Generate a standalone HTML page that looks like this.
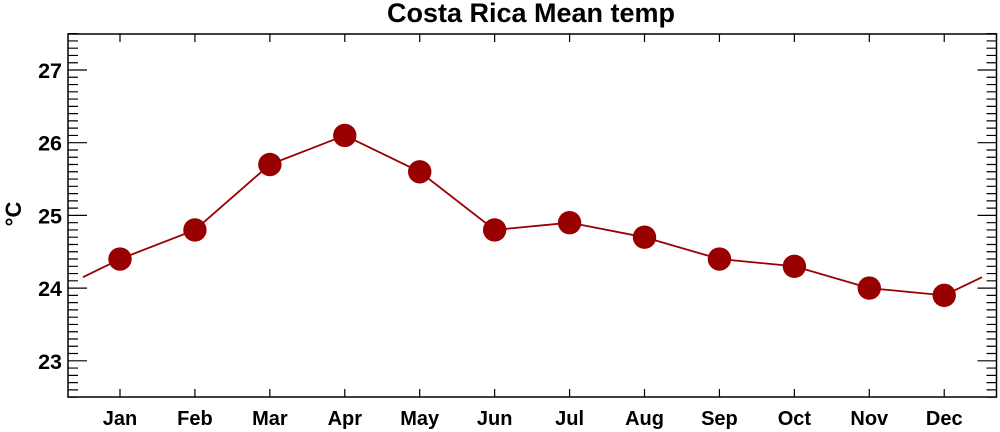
<!DOCTYPE html>
<html><head><meta charset="utf-8"><style>body{margin:0;background:#fff}svg{display:block}</style></head>
<body>
<svg id="s" width="1000" height="432" xmlns="http://www.w3.org/2000/svg" font-family="Liberation Sans, Arial, sans-serif" font-weight="bold">
<text x="531" y="22" font-size="27" text-anchor="middle">Costa Rica Mean temp</text>
<text transform="translate(21,214) rotate(-90)" font-size="22" text-anchor="middle">°C</text>
</svg>
<script>
const s=document.getElementById('s'),NS='http://www.w3.org/2000/svg';
function el(t,a,txt){const e=document.createElementNS(NS,t);for(const k in a)e.setAttribute(k,a[k]);if(txt)e.textContent=txt;s.appendChild(e);return e;}
const L=68,R=996.5,T=34,B=397;
const X=i=>120+i*74.93, Y=v=>70+(27-v)*72.7;
let d='';
for(let k=0;k<=50;k++){const v=22.5+k*0.1;const y=Y(v);const maj=Math.abs(v-Math.round(v))<0.01;const len=maj?19:10;
 d+=`M${L},${y}h${len}M${R},${y}h${-len}`;}
const m=['Jan','Feb','Mar','Apr','May','Jun','Jul','Aug','Sep','Oct','Nov','Dec'];
for(let i=0;i<12;i++){const x=X(i);d+=`M${x},${B}v-8M${x},${T}v8`;el('text',{x:x,y:425,'font-size':20,'text-anchor':'middle'},m[i]);}
el('path',{d:d,stroke:'#000','stroke-width':1.2,fill:'none'});
el('rect',{x:L,y:T,width:R-L,height:B-T,fill:'none',stroke:'#000','stroke-width':1.5});
for(let v=23;v<=27;v++)el('text',{x:62,y:Y(v)+8,'font-size':21.5,'text-anchor':'end'},String(v));
const vals=[24.4,24.8,25.7,26.1,25.6,24.8,24.9,24.7,24.4,24.3,24.0,23.9];
let p=`M83,${Y(24.15)}`;vals.forEach((v,i)=>p+=`L${X(i)},${Y(v)}`);p+=`L982,${Y(24.15)}`;
el('path',{d:p,stroke:'#990000','stroke-width':1.8,fill:'none'});
vals.forEach((v,i)=>el('circle',{cx:X(i),cy:Y(v),r:11.7,fill:'#990000'}));
</script>
</body></html>
